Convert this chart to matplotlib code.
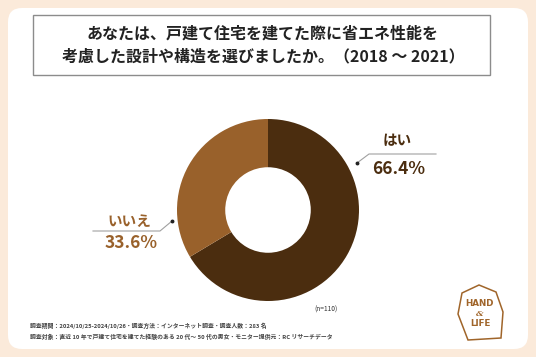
import matplotlib
matplotlib.use('Agg', force=True)

import matplotlib.pyplot as plt
from matplotlib.patches import FancyBboxPatch, Rectangle, Polygon

plt.rcParams['font.family'] = ['Noto Sans CJK JP', 'DejaVu Sans']

# データ
labels = ["はい", "いいえ"]
values = [66.4, 33.6]
colors = ["#4B2D0F", "#99612B"]

title = "あなたは、戸建て住宅を建てた際に省エネ性能を\n考慮した設計や構造を選びましたか。（2018 ～ 2021）"
note_n = "(n=110)"
footer1 = "調査期間：2024/10/25-2024/10/26・調査方法：インターネット調査・調査人数：283 名"
footer2 = "調査対象：直近 10 年で戸建て住宅を建てた経験のある 20 代～ 50 代の男女・モニター提供元：RC リサーチデータ"

W, H = 536, 357
fig = plt.figure(figsize=(W / 100, H / 100), dpi=100)
fig.patch.set_facecolor("#FBEADA")
ax = fig.add_axes([0, 0, 1, 1])

# 白いパネル
ax.add_patch(FancyBboxPatch((8, 8), W - 16, H - 16,
                            boxstyle="round,pad=0,rounding_size=14",
                            facecolor="white", edgecolor="none", zorder=0))

# タイトル枠
ax.add_patch(Rectangle((33, H - 75), 457, 60, facecolor="white",
                       edgecolor="#8C8C8C", linewidth=1.0, zorder=1))
ax.text(263, H - 45, title, ha="center", va="center", fontsize=11.5,
        fontweight="bold", color="#222222", linespacing=1.5, zorder=2)

# ドーナツ
cx, cy, R = 268, H - 210, 91
ax.pie(values, colors=colors, startangle=90, counterclock=False,
       center=(cx, cy), radius=R,
       wedgeprops=dict(width=R * 0.53, edgecolor="none"))

# ラベル
ax.plot([357, 369, 436], [H - 163, H - 154, H - 154], color="#A0A0A0", lw=0.8)
ax.plot([357], [H - 163], "o", color="#222222", ms=1.8)
ax.text(397, H - 140, labels[0], ha="center", va="center", fontsize=10.5,
        fontweight="bold", color=colors[0])
ax.text(399, H - 169, f"{values[0]:.1f}%", ha="center", va="center",
        fontsize=12.5, fontweight="bold", color=colors[0])

ax.plot([172, 160, 93], [H - 221, H - 231, H - 231], color="#A0A0A0", lw=0.8)
ax.plot([172], [H - 221], "o", color="#222222", ms=1.8)
ax.text(129, H - 221, labels[1], ha="center", va="center", fontsize=10.5,
        fontweight="bold", color=colors[1])
ax.text(131, H - 243, f"{values[1]:.1f}%", ha="center", va="center",
        fontsize=12.5, fontweight="bold", color=colors[1])

# 注記
ax.text(326, H - 310, note_n, ha="center", va="center", fontsize=4.8,
        color="#333333")
ax.text(30, H - 326, footer1, ha="left", va="center", fontsize=4.2,
        fontweight="bold", color="#444444")
ax.text(30, H - 337, footer2, ha="left", va="center", fontsize=4.2,
        fontweight="bold", color="#444444")

# ロゴ
logo_c = "#A0652A"
ax.add_patch(Polygon([(479, H - 285), (496, H - 292), (503, H - 312),
                      (501, H - 338), (468, H - 340), (458, H - 314),
                      (462, H - 293)], closed=True, facecolor="none",
                     edgecolor=logo_c, linewidth=1.1))
ax.text(480, H - 303, "HAND", ha="center", va="center", fontsize=6.3,
        fontweight="bold", color=logo_c, family="DejaVu Sans")
ax.text(480, H - 313.5, "&", ha="center", va="center", fontsize=6,
        style="italic", fontweight="bold", color=logo_c, family="DejaVu Serif")
ax.text(480, H - 324, "LIFE", ha="center", va="center", fontsize=6.3,
        fontweight="bold", color=logo_c, family="DejaVu Sans")

ax.set_xlim(0, W)
ax.set_ylim(0, H)
ax.set_aspect("equal", adjustable="box")
ax.axis("off")

fig.savefig("out.png", dpi=100, facecolor=fig.get_facecolor())
plt.close(fig)
